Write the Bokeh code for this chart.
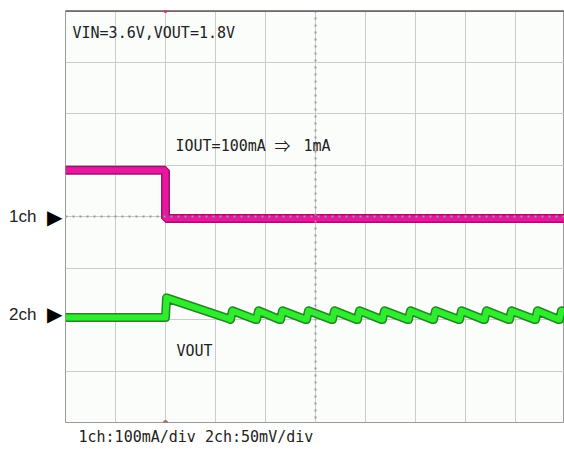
from bokeh.plotting import figure
from bokeh.models import Label, Range1d, FixedTicker, Span, Title, LinearAxis
from bokeh.embed import file_html
from bokeh.resources import INLINE

# ---- data (horizontal: divisions, vertical: divisions from center) ----
ch1_t = [0.0, 2.0, 2.0, 10.0]
ch1_v = [0.9, 0.9, -0.04, -0.04]

ch2_pre_t = [0.0, 2.0]
ch2_pre_v = [-1.96, -1.96]
ch2_step_t = [2.0, 2.02, 3.28]
ch2_step_v = [-1.96, -1.58, -1.99]
tooth_start = [3.3, 3.82, 4.3, 4.82, 5.34, 5.84, 6.34, 6.86, 7.36, 7.88, 8.38, 8.88, 9.4, 9.88]
tooth_top = -1.83
tooth_bottom = -2.0

x_ticks = [0, 1, 2, 3, 4, 5, 6, 7, 8, 9, 10]
y_ticks = [-4, -3, -2, -1, 0, 1, 2, 3, 4]
ch_marker_pos = [0.0, -1.9]
ch_marker_text = ["1ch", "2ch"]

# build ch2 polyline from breakpoints
ch2_t = list(ch2_pre_t) + list(ch2_step_t)
ch2_v = list(ch2_pre_v) + list(ch2_step_v)
for i, s in enumerate(tooth_start):
    end = tooth_start[i + 1] if i + 1 < len(tooth_start) else 10.3
    ch2_t += [s, s + 0.04, end - 0.02]
    ch2_v += [tooth_bottom, tooth_top, tooth_bottom]

p = figure(width=564, height=449, output_backend="svg", toolbar_location=None,
           x_range=Range1d(0, 9.98), y_range=Range1d(-4, 4),
           min_border_left=65, min_border_right=0, min_border_top=10, min_border_bottom=0)
p.xaxis.visible = False
p.yaxis.visible = False
p.xgrid.ticker = FixedTicker(ticks=x_ticks)
p.ygrid.ticker = FixedTicker(ticks=y_ticks)
for g in (p.xgrid, p.ygrid):
    g.grid_line_color = "#c9cdc9"
    g.grid_line_width = 1
p.background_fill_color = "#fbfdfb"
p.border_fill_color = "white"
p.outline_line_color = "#9a9a9a"
p.outline_line_width = 1

# channel markers: triangle axis (inner) and name axis (outer)
tax = LinearAxis(ticker=FixedTicker(ticks=ch_marker_pos),
                 major_label_overrides={v: "▶" for v in ch_marker_pos},
                 axis_line_color=None, major_tick_line_color=None, minor_tick_line_color=None,
                 major_label_text_font="DejaVu Sans", major_label_text_font_size="20px",
                 major_label_text_color="black", major_label_standoff=-3)
p.add_layout(tax, "left")
nax = LinearAxis(ticker=FixedTicker(ticks=ch_marker_pos),
                 major_label_overrides={v: t for v, t in zip(ch_marker_pos, ch_marker_text)},
                 axis_line_color=None, major_tick_line_color=None, minor_tick_line_color=None,
                 major_label_text_font="Liberation Sans", major_label_text_font_size="17px",
                 major_label_text_color="#222222", major_label_standoff=2)
p.add_layout(nax, "left")

# center cross (dotted)
p.add_layout(Span(location=5, dimension="height", line_color="#9a9a9a", line_dash="2 5", line_width=2))
p.add_layout(Span(location=0, dimension="width", line_color="#9a9a9a", line_dash="2 5", line_width=2))
# top border
p.add_layout(Span(location=4, dimension="width", line_color="#6e6e6e", line_width=3))

# traces
p.line(ch1_t, ch1_v, line_color="#a0106c", line_width=9)
p.line(ch1_t, ch1_v, line_color="#e8179f", line_width=6)
p.line(ch2_t, ch2_v, line_color="#1f8a1f", line_width=9, line_join="round")
p.line(ch2_t, ch2_v, line_color="#2fec2f", line_width=6, line_join="round")

# trigger markers
p.scatter([2.0], [4.0], size=4, color="#e03050")
p.scatter([2.0], [-4.0], size=4, color="#9a7050")

mono = "DejaVu Sans Mono"
def lab(x, y, text, font=mono, size="15px", baseline="alphabetic", color="#222222"):
    p.add_layout(Label(x=x, y=y, text=text, text_font=font, text_font_size=size,
                       text_baseline=baseline, text_color=color))

lab(0.14, 3.57, "VIN=3.6V,VOUT=1.8V")
lab(2.2, 1.36, "IOUT=100mA")
lab(4.18, 1.38, "⇒", font="Noto Sans CJK JP", size="16px")
lab(4.76, 1.36, "1mA")
lab(2.22, -2.61, "VOUT")

p.add_layout(Title(text="1ch:100mA/div 2ch:50mV/div", text_font=mono, text_font_size="15px",
                   text_font_style="normal", text_color="#222222", align="left", offset=13,
                   standoff=7), "below")

open("out.html", "w").write(file_html(p, INLINE))
